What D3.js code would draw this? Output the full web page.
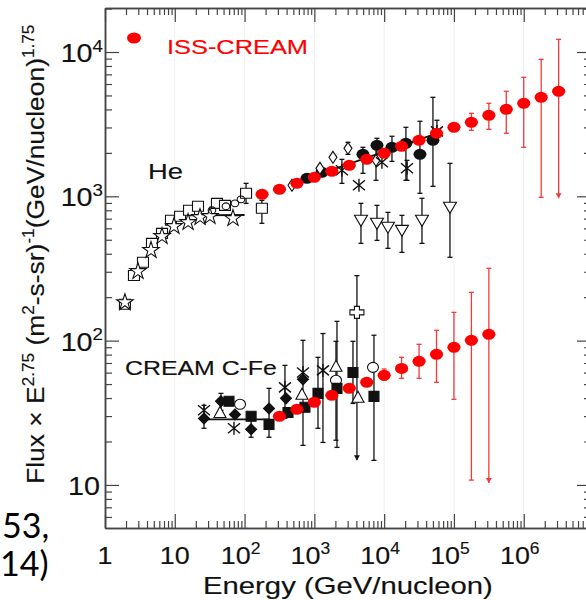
<!DOCTYPE html>
<html><head><meta charset="utf-8">
<script src="https://cdn.jsdelivr.net/npm/d3@7"></script>
<style>html,body{margin:0;padding:0;background:#fff;overflow:hidden}</style>
</head><body><svg id="c" width="586" height="600"></svg>
<script>
// ---------------- DATA ----------------
// ISS-CREAM helium (red)
const issHeEnergy = [178, 316, 562, 1000, 1778, 3162, 5623, 10000, 17783, 31623, 56234, 100000, 177828, 316228, 562341, 1000000, 1778279, 3162278];
const issHeFlux   = [1032, 1118, 1230, 1354, 1490, 1640, 1804, 1986, 2221, 2444, 2733, 3007, 3258, 3641, 4008, 4411, 4853, 5343];
const issHeLow    = [null, null, null, null, null, null, null, null, null, null, null, null, 2866, 2911, 2733, 2186, 984, 969];
const issHeHigh   = [null, null, null, null, null, null, null, null, null, null, null, null, 3760, 4411, 5343, 6678, 8893, 12240];
// ISS-CREAM C-Fe (red)
const issCFeEnergy = [316, 562, 1000, 1778, 3162, 5623, 10000, 17783, 31623, 56234, 100000, 177828, 316228];
const issCFeFlux   = [29.9, 33.4, 37.4, 41.8, 46.7, 51.4, 57.5, 64.2, 71.9, 80.4, 89.8, 100.5, 110.6];
const issCFeLow    = [null, null, null, null, null, null, 53.1, 54.8, 54.8, 51.4, 39.2, 10.8, 10.3];
const issCFeHigh   = [null, null, null, null, null, null, 63.6, 76.6, 94.3, 117.9, 157, 216, 317];

// Other helium measurements (black): [energy, flux, low, high]
const heSquares = [[1.93,178.5],[2.6,283],[3.5,349],[4.71,472],[6.56,554],[8.82,682],[11.9,727],[16.0,800],[21.5,853],[40.2,894],[52.4,866],[105,1049,894,1230],[177,826,650,938]];
const heStars = [[1.93,184],[2.97,302],[4.56,423],[6.56,528],[9.74,620],[15.5,660],[23.0,715],[31.9,727],[68.2,704]];
const heCircles = [[34.1,800],[54.1,853],[72.8,894],[88.8,953]];
const heLowLine = [[15,738],[100,742]];
const heFilled = [[783,1333],[1285,1466],[4969,1954,1443,2186],[7888,2256,1720,2523],[12940,2186,1746,2607],[20500,2328,1291,3007],[32580,1954,1049,3311],[50000,2444,1173,4853]];
const heDiamonds = [[478,1192],[1202,1563],[1846,1862],[3030,2150,1954,2367],[7640,1775,1291,2150]];
const heAsterisks = [[2483,1514,1230,1803],[4355,1192],[9290,1720],[21230,1563,1290,1775],[57060,2818,2563,3365]];
const heTriDown = [[4652,682,472,894],[7888,650,495,866],[11330,610,436,774],[17990,581,409,738],[34830,682,472,969],[87700,839,378,1693]];
const heHighLine = [[600,1270],[57000,2733]];

// CREAM C-Fe measurements (black)
const cfeLine = [[25,28.5],[230,28.5]];
const cfeFilledDiamonds = [[26.2,28.9,24.7,35.6],[45.9,38.0,32.9,43.1],[72.8,30.8],[124,24.3,21.4,28.5],[224,33.9,21.4,46.7],[392,39.8],[687,53.9,18.8,100.5]];
const cfeFilledSquares = [[59.8,38.0],[124,29.9],[224,26.3],[419,31.8],[733,34.5],[1127,43.1,24.7,76.6],[2108,46.7,18.2,136],[3573,60.2,36.7,98.9],[7145,41.1,14.8,109]];
const cfeOpenCircles = [[86,36.2],[2040,53.1,20.4,98.9],[6920,65.3]];
const cfeTriUp = [[44.4,31.8],[664,42.5],[2040,66.4],[4217,40.5]];
const cfeAsterisks = [[26.2,32.9],[70.5,24.7],[379,47.4,29,67.4],[687,60.2],[1327,62.2,19.7,112]];
const cfeCross = [[4074,157,14.8,282]];

// Tick labels
const xTickExp = [0, 1, 2, 3, 4, 5, 6];
const yTickExp = [1, 2, 3, 4];

// ---------------- CHART ----------------
const svg = d3.select('#c');
const X0 = 105, X1 = 591, Y0 = 8, Y1 = 528;
const x = d3.scaleLog().domain([1, 9.2e6]).range([X0, X1]);
const y = d3.scaleLog().domain([5.03, 20180]).range([Y1, Y0]);
const AX = '#444';
const RED = '#ff0000', RED_ERR = '#f23a3a';

// faint decade grid
svg.append('g').selectAll('line').data(xTickExp.slice(1)).join('line')
  .attr('x1', d => x(Math.pow(10, d))).attr('x2', d => x(Math.pow(10, d)))
  .attr('y1', Y0).attr('y2', Y1).attr('stroke', '#eeeeee').attr('stroke-width', 1);

const isMajor = v => Math.abs(Math.log10(v) - Math.round(Math.log10(v))) < 1e-9;
const xAll = x.ticks(), yAll = y.ticks();
const xMaj = xAll.filter(isMajor), xMin = xAll.filter(v => !isMajor(v));
const yMaj = yAll.filter(isMajor), yMin = yAll.filter(v => !isMajor(v));

const gAx = svg.append('g');
function addAxis(fn, scale, vals, size, tr) {
  gAx.append('g').attr('transform', tr)
    .call(fn(scale).tickValues(vals).tickSizeInner(size).tickSizeOuter(0).tickFormat(''))
    .call(g => {
      g.select('.domain').attr('stroke', AX).attr('stroke-width', 1.5);
      g.selectAll('.tick line').attr('stroke', AX).attr('stroke-width', 1.2);
    });
}
addAxis(d3.axisTop, x, xMaj, 14, `translate(0,${Y1})`);
addAxis(d3.axisTop, x, xMin, 7, `translate(0,${Y1})`);
addAxis(d3.axisBottom, x, xMaj, 14, `translate(0,${Y0})`);
addAxis(d3.axisBottom, x, xMin, 7, `translate(0,${Y0})`);
addAxis(d3.axisRight, y, yMaj, 14, `translate(${X0},0)`);
addAxis(d3.axisRight, y, yMin, 7, `translate(${X0},0)`);
addAxis(d3.axisLeft, y, yMaj, 14, `translate(${X1},0)`);
addAxis(d3.axisLeft, y, yMin, 7, `translate(${X1},0)`);

// text helper
function txt(parent, parts, o) {
  const g = parent.append('g').attr('transform', `translate(${o.x},${o.y})` + (o.rot ? ` rotate(${o.rot})` : ''));
  const t = g.append('text').attr('font-family', o.family || 'Liberation Sans, Arial, sans-serif')
    .attr('font-size', o.size).attr('fill', o.fill || '#111').attr('text-anchor', o.anchor || 'start');
  if (o.stroke) t.attr('stroke', o.fill || '#111').attr('stroke-width', o.stroke);
  let sup = false;
  parts.forEach(p => {
    const s = t.append('tspan').text(p[0]);
    if (p[1]) { s.attr('font-size', o.size * 0.65); if (!sup) { s.attr('dy', -o.size * 0.42); sup = true; } }
    else if (sup) { s.attr('dy', o.size * 0.42); sup = false; }
  });
  let sx = o.sx || 1;
  if (o.width) { const w = t.node().getBBox().width; if (w > 0) sx = o.width / w; }
  t.attr('transform', `scale(${sx},1)`);
  return g;
}

const gT = svg.append('g');
// y tick labels
yTickExp.forEach(e => {
  const parts = e === 1 ? [['10']] : [['10'], [String(e), true]];
  txt(gT, parts, { x: e === 1 ? 100 : 103, y: y(Math.pow(10, e)) + 10, size: 25, anchor: 'end', sx: 1.15, stroke: 0.15 });
});
// x tick labels
xTickExp.forEach(e => {
  const parts = e === 0 ? [['1']] : e === 1 ? [['10']] : [['10'], [String(e), true]];
  txt(gT, parts, { x: x(Math.pow(10, e)) - (e > 1 ? 4 : 0), y: 564, size: 24, anchor: 'middle', sx: 1.12, stroke: 0.15 });
});
// axis titles
txt(gT, [['Energy (GeV/nucleon)']], { x: 203, y: 594, size: 23, width: 290, stroke: 0.15 });
txt(gT, [['Flux \u00d7 E'], ['2.75', true], [' (m'], ['2', true], ['-s-sr)'], ['-1', true], ['(GeV/nucleon)'], ['1.75', true]],
  { x: 44, y: 484, rot: -90, size: 24, width: 460, stroke: 0.15 });
// annotations
txt(gT, [['ISS-CREAM']], { x: 167, y: 54, size: 21, width: 141, fill: RED, stroke: 0.15 });
txt(gT, [['He']], { x: 148, y: 179, size: 22, width: 35, stroke: 0.15 });
txt(gT, [['CREAM C-Fe']], { x: 125, y: 375, size: 20, width: 152, stroke: 0.15 });
txt(gT, [['53,']], { x: 2, y: 538, size: 34, family: 'Lato, Open Sans, sans-serif', fill: '#000' });
txt(gT, [['14)']], { x: 0, y: 576, size: 34, family: 'Lato, Open Sans, sans-serif', fill: '#000' });
svg.append('ellipse').attr('cx', 134).attr('cy', 38).attr('rx', 7).attr('ry', 5.6).attr('fill', RED);

// ---------------- MARKS ----------------
const gE = svg.append('g'), gL = svg.append('g'), gM = svg.append('g');
function errBar(g, d, color, arrow) {
  if (d[2] == null) return;
  const cx = x(d[0]), yl = y(d[2]), yh = y(d[3]);
  g.append('line').attr('x1', cx).attr('x2', cx).attr('y1', yh).attr('y2', yl).attr('stroke', color).attr('stroke-width', 1.3);
  g.append('line').attr('x1', cx - 2.5).attr('x2', cx + 2.5).attr('y1', yh).attr('y2', yh).attr('stroke', color).attr('stroke-width', 1.3);
  if (arrow) {
    g.append('path').attr('d', `M${cx - 3},${yl - 5}L${cx + 3},${yl - 5}L${cx},${yl}Z`).attr('fill', color);
  } else {
    g.append('line').attr('x1', cx - 2.5).attr('x2', cx + 2.5).attr('y1', yl).attr('y2', yl).attr('stroke', color).attr('stroke-width', 1.3);
  }
}
const K = '#111';
const shapes = {
  sq: 'M-5.5,-5H5.5V5H-5.5Z',
  fsq: 'M-5,-5H5V5H-5Z',
  dia: 'M0,-6L4,0L0,6L-4,0Z',
  fdia: 'M0,-5.5L5.5,0L0,5.5L-5.5,0Z',
  tdown: 'M-6.5,-5L6.5,-5L0,6Z',
  tup: 'M0,-6L6,5L-6,5Z',
  cross: 'M-2.5,-6H2.5V-2.5H7V2.5H2.5V6H-2.5V2.5H-7V-2.5H-2.5Z',
  ast: 'M0,-6.5V6.5M-6,-5L6,5M-6,5L6,-5'
};
function mark(type, d, small) {
  const cx = x(d[0]), cy = y(d[1]);
  if (type === 'fcirc') {
    gM.append('ellipse').attr('cx', cx).attr('cy', cy).attr('rx', 6.5).attr('ry', 5.5).attr('fill', K);
  } else if (type === 'circ') {
    gM.append('ellipse').attr('cx', cx).attr('cy', cy).attr('rx', small ? 3.8 : 5.5).attr('ry', small ? 3.4 : 5)
      .attr('fill', small ? 'none' : '#fff').attr('stroke', K).attr('stroke-width', 1.1);
  } else if (type === 'star') {
    gM.append('path').attr('d', d3.symbol(d3.symbolStar, 85)()).attr('transform', `translate(${cx},${cy})`)
      .attr('fill', '#fff').attr('stroke', K).attr('stroke-width', 1.1);
  } else {
    const filled = type[0] === 'f';
    gM.append('path').attr('d', shapes[type]).attr('transform', `translate(${cx},${cy})`)
      .attr('fill', type === 'ast' ? 'none' : (filled ? K : '#fff')).attr('stroke', K).attr('stroke-width', type === 'ast' ? 1.4 : 1.1);
  }
}
function series(data, type, arrowIdx, small) {
  data.forEach((d, i) => { errBar(gE, d, K, arrowIdx === i); mark(type, d, small); });
}
const line = d3.line().x(d => x(d[0])).y(d => y(d[1]));
[heLowLine, heHighLine, cfeLine].forEach(l => gL.append('path').attr('d', line(l)).attr('stroke', K).attr('stroke-width', 1.8).attr('fill', 'none'));

series(heSquares, 'sq');
series(heStars, 'star');
series(heCircles, 'circ', -1, true);
series(heFilled, 'fcirc');
series(heDiamonds, 'dia');
series(heAsterisks, 'ast');
series(heTriDown, 'tdown');
series(cfeOpenCircles, 'circ');
series(cfeTriUp, 'tup');
series(cfeAsterisks, 'ast');
series(cfeFilledSquares, 'fsq');
series(cfeFilledDiamonds, 'fdia');
series(cfeCross, 'cross', 0);

// red ISS-CREAM on top
const gR = svg.append('g');
function redSeries(E, F, L, Hh) {
  E.forEach((e, i) => {
    errBar(gR, [e, F[i], L[i], Hh[i]], RED_ERR, i === E.length - 1);
  });
  gR.append('g').selectAll('ellipse').data(E).join('ellipse')
    .attr('cx', d => x(d)).attr('cy', (d, i) => y(F[i])).attr('rx', 6.6).attr('ry', 5.5).attr('fill', RED);
}
redSeries(issHeEnergy, issHeFlux, issHeLow, issHeHigh);
redSeries(issCFeEnergy, issCFeFlux, issCFeLow, issCFeHigh);
</script></body></html>
